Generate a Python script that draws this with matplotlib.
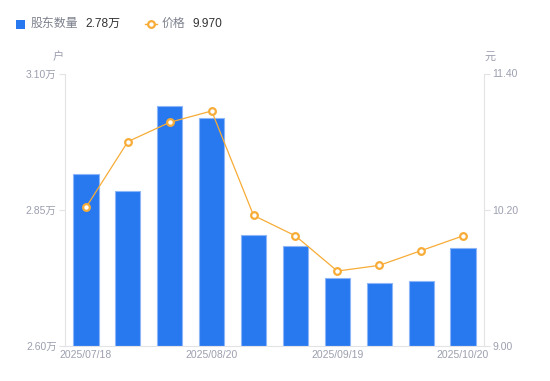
import matplotlib
matplotlib.use("Agg")
import matplotlib.pyplot as plt
from matplotlib.lines import Line2D
from matplotlib.patches import Rectangle

plt.rcParams['font.family'] = ['Liberation Sans', 'Noto Sans CJK SC', 'DejaVu Sans']

# ---- data ----
date_labels = ["2025/07/18", "", "", "2025/08/20", "", "", "2025/09/19", "", "", "2025/10/20"]
holders_wan = [2.916, 2.885, 3.041, 3.019, 2.803, 2.783, 2.725, 2.715, 2.719, 2.779]
price = [10.22, 10.80, 10.97, 11.07, 10.15, 9.97, 9.66, 9.71, 9.84, 9.97]
left_ticks = [2.60, 2.85, 3.10]
left_tick_labels = ["2.60万", "2.85万", "3.10万"]
right_ticks = [9.00, 10.20, 11.40]
right_tick_labels = ["9.00", "10.20", "11.40"]
legend_holders = "2.78万"
legend_price = "9.970"

BLUE = "#2878f0"
BLUE_EDGE = "#8cb6f7"
ORANGE = "#f7ac37"
GRAY_TXT = "#9c9fae"
AXIS_GRAY = "#e3e3e6"

fig = plt.figure(figsize=(5.5, 3.81), dpi=100)
ax = fig.add_axes([65/550, 1-346/381, (484-65)/550, (346-73.5)/381])
ax2 = ax.twinx()

x = list(range(len(holders_wan)))
ax.bar(x, [h - left_ticks[0] for h in holders_wan], bottom=left_ticks[0], width=0.6,
       color=BLUE, edgecolor=BLUE_EDGE, linewidth=0.8, zorder=2)
ax.set_ylim(left_ticks[0], left_ticks[-1])
ax.set_xlim(-0.5, len(x) - 0.5)
ax.set_yticks(left_ticks)
ax.set_yticklabels(left_tick_labels)
ax.set_xticks([i for i, l in enumerate(date_labels) if l])
ax.set_xticklabels([l for l in date_labels if l])

ax2.plot(x, price, color=ORANGE, linewidth=0.9, marker='o', markersize=4.8,
         markerfacecolor='white', markeredgecolor=ORANGE, markeredgewidth=1.6, zorder=3)
ax2.set_ylim(right_ticks[0], right_ticks[-1])
ax2.set_yticks(right_ticks)
ax2.set_yticklabels(right_tick_labels)

for a in (ax, ax2):
    for s in a.spines.values():
        s.set_visible(False)
ax.spines['left'].set_visible(True)
ax.spines['left'].set_color(AXIS_GRAY)
ax.spines['bottom'].set_visible(True)
ax.spines['bottom'].set_color(AXIS_GRAY)
ax2.spines['right'].set_visible(True)
ax2.spines['right'].set_color(AXIS_GRAY)

ax.tick_params(axis='y', colors=AXIS_GRAY, labelcolor=GRAY_TXT, labelsize=7.5, length=4, pad=2)
ax.tick_params(axis='x', length=0, labelcolor=GRAY_TXT, labelsize=7.5, pad=3)
ax2.tick_params(axis='y', colors=AXIS_GRAY, labelcolor=GRAY_TXT, labelsize=7.5, length=4, pad=2)

fig.text(58/550, 1-57/381, "户", color=GRAY_TXT, fontsize=8, ha='center', va='center')
fig.text(490/550, 1-57/381, "元", color=GRAY_TXT, fontsize=8, ha='center', va='center')

# legend
fig.patches.append(Rectangle((16/550, 1-29/381), 9/550, 9/381, transform=fig.transFigure,
                             facecolor=BLUE, edgecolor='none'))
fig.text(31/550, 1-24/381, "股东数量", color="#7d808d", fontsize=8.6, va='center', ha='left')
fig.text(85/550, 1-24/381, legend_holders, color="#333333", fontsize=8.6, va='center', ha='left')
fig.lines.append(Line2D([145/550, 157/550], [1-24/381, 1-24/381], transform=fig.transFigure,
                        color=ORANGE, linewidth=1.0))
fig.lines.append(Line2D([151/550], [1-24/381], transform=fig.transFigure,
                        color=ORANGE, marker='o', markersize=4.8, markerfacecolor='white',
                        markeredgecolor=ORANGE, markeredgewidth=1.6, linestyle='none'))
fig.text(162/550, 1-24/381, "价格", color="#7d808d", fontsize=8.6, va='center', ha='left')
fig.text(192/550, 1-24/381, legend_price, color="#333333", fontsize=8.6, va='center', ha='left')

fig.savefig("out.png", dpi=100)
